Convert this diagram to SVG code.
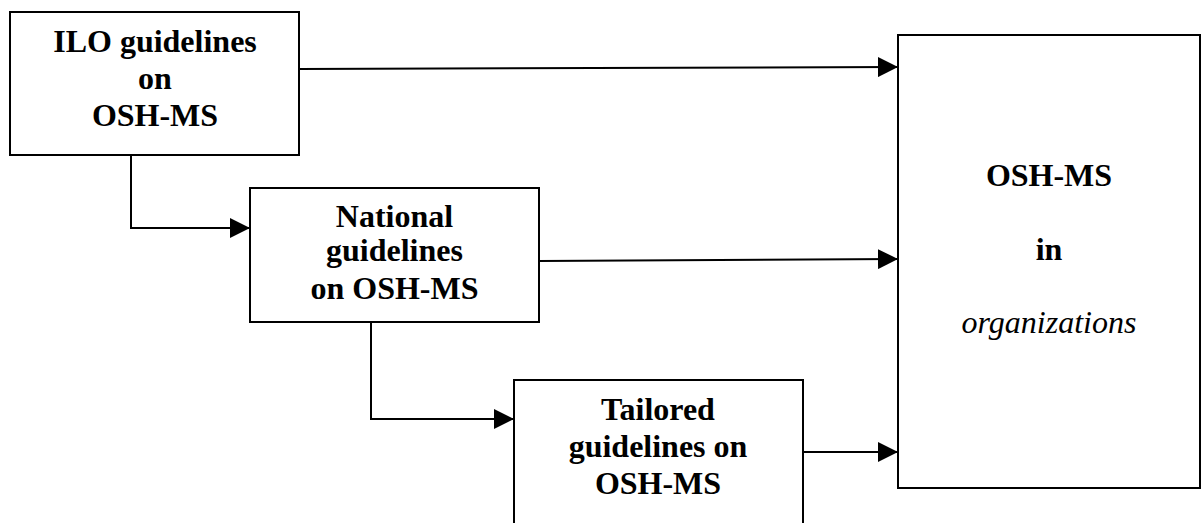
<svg xmlns="http://www.w3.org/2000/svg" width="1201" height="523" viewBox="0 0 1201 523">
<style>
.box{fill:#fff;stroke:#000;stroke-width:2}
.t{font-family:"Liberation Serif","Times New Roman",serif;font-size:32px;font-weight:bold;text-anchor:middle;fill:#000}
.i{font-weight:normal;font-style:italic}
.c{fill:none;stroke:#000;stroke-width:2}
</style>
<defs>
<marker id="ah" markerUnits="userSpaceOnUse" markerWidth="20" markerHeight="20" refX="20" refY="10" orient="auto">
<path d="M0,0 L20,10 L0,20 Z" fill="#000"/>
</marker>
</defs>
<rect width="1201" height="523" fill="#fff"/>
<g id="connectors">
<path class="c" d="M299,69 L898,67" marker-end="url(#ah)"/>
<path class="c" d="M539,261 L898,259" marker-end="url(#ah)"/>
<path class="c" d="M131,155 L131,228 L250,228" marker-end="url(#ah)"/>
<path class="c" d="M371,322 L371,419 L514,419" marker-end="url(#ah)"/>
<path class="c" d="M803,452 L898,452" marker-end="url(#ah)"/>
</g>
<g id="ilo">
<rect class="box" x="10" y="12" width="289" height="143"/>
<text class="t" x="155" y="52">ILO guidelines</text>
<text class="t" x="155" y="89">on</text>
<text class="t" x="155" y="126">OSH-MS</text>
</g>
<g id="national">
<rect class="box" x="250" y="188" width="289" height="134"/>
<text class="t" x="394.5" y="227">National</text>
<text class="t" x="394.5" y="261">guidelines</text>
<text class="t" x="394.5" y="299">on OSH-MS</text>
</g>
<g id="tailored">
<rect class="box" x="514" y="380" width="289" height="160"/>
<text class="t" x="658" y="420">Tailored</text>
<text class="t" x="658" y="457">guidelines on</text>
<text class="t" x="658" y="494">OSH-MS</text>
</g>
<g id="organizations">
<rect class="box" x="898" y="35" width="302" height="453"/>
<text class="t" x="1049" y="186">OSH-MS</text>
<text class="t" x="1049" y="260">in</text>
<text class="t i" x="1049" y="333">organizations</text>
</g>
</svg>
